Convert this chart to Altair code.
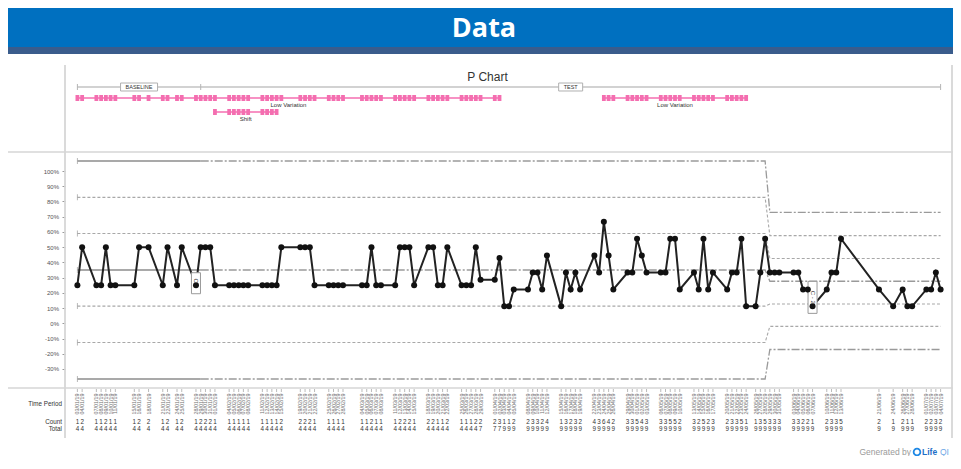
import altair as alt
import pandas as pd

# ---------------- values ----------------
days = [0, 1,
        4, 5, 6, 7, 8,
        12, 13,
        15,
        18, 19,
        21, 22,
        25, 26, 27, 28, 29,
        32, 33, 34, 35, 36,
        39, 40, 41, 42, 43,
        47, 48, 49, 50,
        53, 54, 55, 56,
        60, 61, 62, 63, 64,
        67, 68, 69, 70, 71,
        74, 75, 76, 77, 78,
        81, 82, 83, 84, 85,
        88, 89, 90, 91, 92,
        95, 96, 97, 98, 99,
        102, 103, 104, 105, 106,
        109, 110, 111, 112, 113,
        116, 117, 118, 119, 120,
        123, 124, 125, 126, 127,
        130, 131, 132, 133, 134,
        137, 138, 139, 140, 141,
        143, 144, 145, 146, 147, 148,
        151, 152, 153, 154, 155,
        158, 159, 160, 161,
        169,
        172,
        174, 175, 176,
        179, 180, 181, 182]

counts = [1, 2,
          1, 1, 2, 1, 1,
          1, 2,
          2,
          1, 2,
          1, 2,
          1, 2, 2, 2, 1,
          1, 1, 1, 1, 1,
          1, 1, 1, 1, 2,
          2, 2, 2, 1,
          1, 1, 1, 1,
          1, 1, 2, 1, 1,
          1, 2, 2, 2, 1,
          2, 2, 1, 1, 2,
          1, 1, 1, 2, 2,
          2, 3, 1, 1, 2,
          2, 3, 3, 2, 4,
          1, 3, 2, 3, 2,
          4, 3, 6, 4, 2,
          3, 3, 5, 4, 3,
          3, 3, 5, 5, 2,
          3, 2, 5, 2, 3,
          2, 3, 3, 5, 1,
          1, 3, 5, 3, 3, 3,
          3, 3, 2, 2, 1,
          2, 3, 3, 5,
          2,
          1,
          2, 1, 1,
          2, 2, 3, 2]

totals = [4, 4,
          4, 4, 4, 4, 4,
          4, 4,
          4,
          4, 4,
          4, 4,
          4, 4, 4, 4, 4,
          4, 4, 4, 4, 4,
          4, 4, 4, 4, 4,
          4, 4, 4, 4,
          4, 4, 4, 4,
          4, 4, 4, 4, 4,
          4, 4, 4, 4, 4,
          4, 4, 4, 4, 4,
          4, 4, 4, 4, 7,
          7, 7, 9, 9, 9,
          9, 9, 9, 9, 9,
          9, 9, 9, 9, 9,
          9, 9, 9, 9, 9,
          9, 9, 9, 9, 9,
          9, 9, 9, 9, 9,
          9, 9, 9, 9, 9,
          9, 9, 9, 9, 9,
          9, 9, 9, 9, 9, 9,
          9, 9, 9, 9, 9,
          9, 9, 9, 9,
          9,
          9,
          9, 9, 9,
          9, 9, 9, 9]

start_date = "2019-01-03"
y_ticks = [-30, -20, -10, 0, 10, 20, 30, 40, 50, 60, 70, 80, 90, 100]

limit_levels = ["ucl", "p2", "p1", "cl", "m1", "m2", "lcl"]
baseline_limits = [106.6, 82.7, 59.0, 35.0, 11.3, -12.6, -36.6]
test_limits = [72.8, 57.6, 42.6, 27.6, 12.7, -2.0, -17.2]
limit_days = [0, 26, 145, 146, 182]  # calc end, step from, step to, end

phase_names = ["BASELINE", "TEST"]
phase_start = [0, 26]
phase_end = [26, 182]

run_names = ["Low Variation", "Shift", "Low Variation"]
run_start = [0, 29, 111]
run_end = [89, 42, 141]
run_row = [1, 2, 1]

note_days = [25, 155]
note_text = ["C 1", "C - 2"]

row_labels = ["Time Period", "Count", "Total"]

# ---------------- tables ----------------
t0 = pd.Timestamp(start_date)
period = [(t0 + pd.Timedelta(days=d)).strftime("%d/%m/%y") for d in days]
pct = [100.0 * c / t for c, t in zip(counts, totals)]
df = pd.DataFrame({"day": days, "count": counts, "total": totals, "p": pct, "period": period})

rows = []
for lv, b, t in zip(limit_levels, baseline_limits, test_limits):
    d0, d1, d2, d3, d4 = limit_days
    rows += [dict(level=lv, seg="A", day=d0, v=b), dict(level=lv, seg="A", day=d1, v=b),
             dict(level=lv, seg="B", day=d1, v=b), dict(level=lv, seg="B", day=d2, v=b),
             dict(level=lv, seg="B", day=d3, v=t), dict(level=lv, seg="B", day=d4, v=t)]
lim = pd.DataFrame(rows)
main_lv = ["ucl", "cl", "lcl"]
lim_solid = lim[(lim.level.isin(main_lv)) & (lim.seg == "A")]
lim_dash = lim[(lim.level.isin(main_lv)) & (lim.seg == "B")]
lim_sigma = lim[~lim.level.isin(main_lv)]
lim_start = pd.DataFrame({"level": limit_levels, "v": baseline_limits, "day": [limit_days[0]] * 7})

phases = pd.DataFrame({"name": phase_names, "start": phase_start, "end": phase_end})
phases["mid"] = (phases.start + phases.end) / 2
bracket = pd.DataFrame({"start": [min(phase_start)], "end": [max(phase_end)]})
bounds = pd.DataFrame({"day": sorted(set(phase_start + phase_end))})

one = pd.DataFrame({"k": [0]})

# ---------------- scales ----------------
FONT = "Liberation Sans"
X = alt.Scale(domain=[0, 182], range=[69.4, 932.6])
Y = alt.Scale(domain=[-42.5, 112.5], range=[380, 144])
YAX = alt.Axis(values=y_ticks, labelExpr="datum.value + '%'", offset=-57, grid=False,
               domain=False, ticks=True, tickSize=3, tickColor="#9a9a9a", tickWidth=1,
               labelFontSize=6, labelColor="#555555", labelPadding=3.5, labelFont=FONT,
               labelOverlap=False, title=None)


def xq(f="day"):
    return alt.X(f"{f}:Q", scale=X, axis=None)


def yq(f):
    return alt.Y(f"{f}:Q", scale=Y, axis=YAX)


def drect(x1, x2, y1, y2, color):
    return alt.Chart(one).mark_rect(color=color).encode(
        x=alt.value(x1), x2=alt.value(x2), y=alt.value(y1), y2=alt.value(y2))


def drule(x1, x2, y1, y2, color, w):
    return alt.Chart(one).mark_rule(color=color, strokeWidth=w).encode(
        x=alt.value(x1), x2=alt.value(x2), y=alt.value(y1), y2=alt.value(y2))


def dtext(txt, x, y, **kw):
    return alt.Chart(one).mark_text(text=txt, **kw).encode(x=alt.value(x), y=alt.value(y))


layers = []
# header
layers.append(drect(0, 945, 0, 46, "#3A5C8C"))
layers.append(drect(0, 945, 0, 39, "#0070C0"))
layers.append(dtext("Data", 476, 21, font="Open Sans", fontSize=27, fontWeight="bold", color="white"))

# frame lines
GR = "#d6d6d6"
layers.append(drule(0, 945, 144, 144, GR, 1.6))
layers.append(drule(0, 945, 380, 380, GR, 1.6))
layers.append(drule(57, 57, 57, 430, GR, 1.8))
layers.append(drule(944, 944, 57, 430, GR, 1.8))

# title and phase bracket
layers.append(dtext("P Chart", 479.5, 69, font=FONT, fontSize=12, color="#333333"))
layers.append(alt.Chart(bracket).mark_rule(color="#d2d2d2", strokeWidth=1.8).encode(
    x=xq("start"), x2=alt.X2("end"), y=alt.value(79)))
layers.append(alt.Chart(bounds).mark_rule(color="#b5b5b5", strokeWidth=1).encode(
    x=xq("day"), y=alt.value(76), y2=alt.value(82)))
for name, w in zip(phase_names, [37, 24]):
    h = 8.0 / w
    shape = f"M-1,-{h:.3f}L1,-{h:.3f}L1,{h:.3f}L-1,{h:.3f}Z"
    sub = phases[phases.name == name]
    layers.append(alt.Chart(sub).mark_point(shape=shape, size=w * w, filled=True, fill="white",
                                            stroke="#b0b0b0", strokeWidth=1, opacity=1).encode(
        x=xq("mid"), y=alt.value(79)))
    layers.append(alt.Chart(sub).mark_text(font=FONT, fontSize=5.5, color="#333333").encode(
        x=xq("mid"), y=alt.value(79), text="name:N"))

# rule-break rows (pink)
PINK = "#F46EB0"
row_y = {1: 90, 2: 104}
for nm, s, e, r in zip(run_names, run_start, run_end, run_row):
    seg = pd.DataFrame({"start": [s], "end": [e], "mid": [(s + e) / 2], "name": [nm]})
    pts = df[(df.day >= s) & (df.day <= e)]
    layers.append(alt.Chart(seg).mark_rule(color=PINK, strokeWidth=1.3).encode(
        x=xq("start"), x2=alt.X2("end"), y=alt.value(row_y[r])))
    layers.append(alt.Chart(pts).mark_tick(orient="vertical", color=PINK, thickness=3.8, size=6,
                                           opacity=1).encode(x=xq("day"), y=alt.value(row_y[r])))
    layers.append(alt.Chart(seg).mark_text(font=FONT, fontSize=6, color="#333333").encode(
        x=xq("mid"), y=alt.value(row_y[r] + 6.5), text="name:N"))

# control limit lines
layers.append(alt.Chart(lim_sigma).mark_line(color="#a8a8a8", strokeWidth=1.1, strokeDash=[3, 2]).encode(
    x=xq("day"), y=yq("v"), detail="level:N"))
layers.append(alt.Chart(lim_dash).mark_line(color="#9a9a9a", strokeWidth=1.3, strokeDash=[8, 2, 2, 2]).encode(
    x=xq("day"), y=yq("v"), detail="level:N"))
layers.append(alt.Chart(lim_solid).mark_line(color="#8c8c8c", strokeWidth=1.7).encode(
    x=xq("day"), y=yq("v"), detail="level:N"))
layers.append(alt.Chart(lim_start).mark_tick(orient="vertical", color="#999999", size=6, thickness=1).encode(
    x=xq("day"), y=yq("v")))

# data line
layers.append(alt.Chart(df).mark_line(color="#222222", strokeWidth=2).encode(x=xq("day"), y=yq("p")))

# annotation boxes
notes = df[df.day.isin(note_days)].copy()
notes["label"] = [note_text[note_days.index(d)] for d in notes.day]
for d, h, off in zip(note_days, [21, 32], [-2, -9]):
    a = 9.0 / h
    shape = f"M-{a:.3f},-1L{a:.3f},-1L{a:.3f},1L-{a:.3f},1Z"
    sub = notes[notes.day == d]
    layers.append(alt.Chart(sub).mark_point(shape=shape, size=h * h, filled=True, fill="white",
                                            stroke="#9a9a9a", strokeWidth=1, opacity=1, yOffset=off).encode(
        x=xq("day"), y=yq("p")))
    layers.append(alt.Chart(sub).mark_text(font=FONT, fontSize=6, color="#444444", angle=90,
                                           yOffset=off).encode(x=xq("day"), y=yq("p"), text="label:N"))

# points
layers.append(alt.Chart(df).mark_circle(size=36, color="#111111", opacity=1).encode(x=xq("day"), y=yq("p")))

# table below the plot
layers.append(alt.Chart(df).mark_rule(color="#aaaaaa", strokeWidth=0.8).encode(
    x=xq("day"), y=alt.value(381), y2=alt.value(384)))
layers.append(alt.Chart(df).mark_text(font=FONT, fontSize=5.4, color="#707070", angle=270,
                                      align="right", baseline="middle").encode(
    x=xq("day"), y=alt.value(385.5), text="period:N"))
layers.append(alt.Chart(df).mark_text(font=FONT, fontSize=6.3, color="#333333").encode(
    x=xq("day"), y=alt.value(413.5), text="count:Q"))
layers.append(alt.Chart(df).mark_text(font=FONT, fontSize=6.3, color="#333333").encode(
    x=xq("day"), y=alt.value(421), text="total:Q"))
for lab, yy in zip(row_labels, [396, 413.5, 421]):
    layers.append(dtext(lab, 54, yy, font=FONT, fontSize=6.3, color="#333333", align="right"))

# footer
layers.append(dtext("Generated by", 903, 444, font=FONT, fontSize=8.5, color="#9a9a9a", align="right"))
layers.append(alt.Chart(one).mark_point(shape="circle", size=45, filled=False, stroke="#1E88E5",
                                        strokeWidth=1.8, opacity=1).encode(x=alt.value(909), y=alt.value(444)))
layers.append(dtext("Life", 914, 444, font=FONT, fontSize=8.5, fontWeight="bold", color="#1E6FC8", align="left"))
layers.append(dtext("QI", 932, 444, font=FONT, fontSize=8.5, color="#6FA8E6", align="left"))

chart = alt.layer(*layers).properties(
    width=945, height=448, padding=0,
    autosize=alt.AutoSizeParams(type="none"),
).configure_view(stroke=None)

chart.save("out.html", embed_options={"renderer": "svg", "actions": False})
